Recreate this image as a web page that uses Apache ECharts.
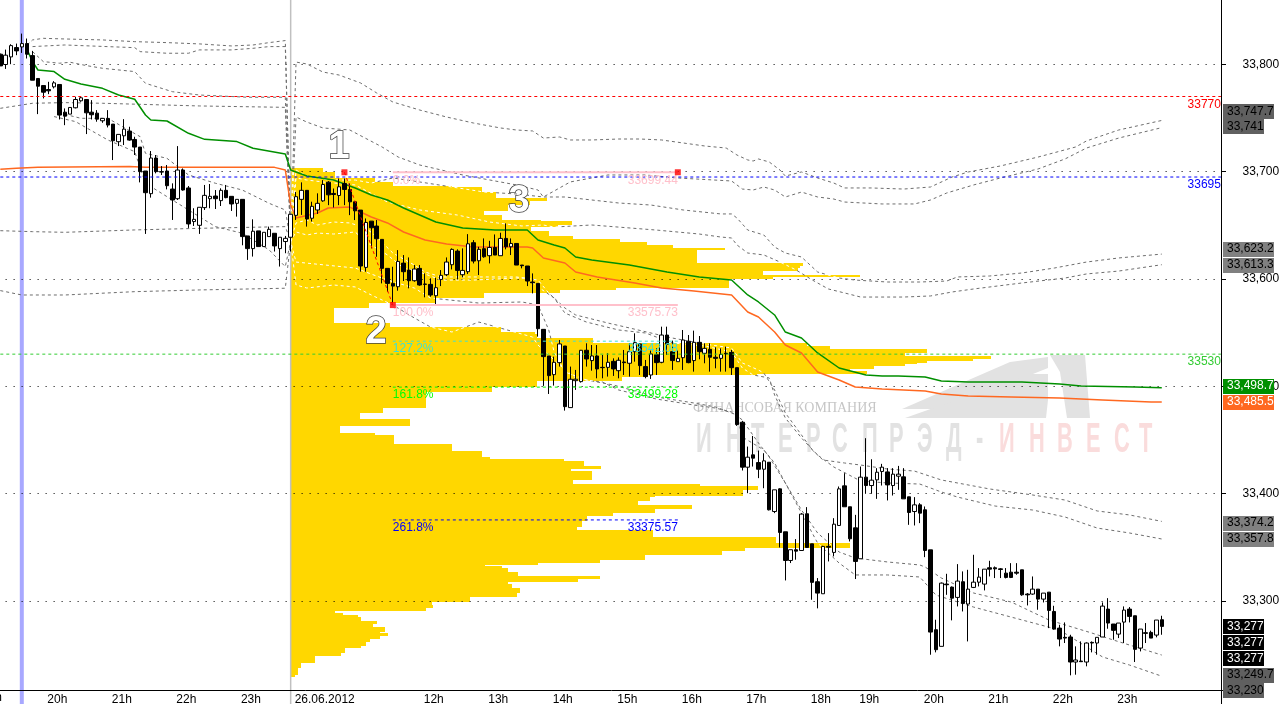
<!DOCTYPE html>
<html><head><meta charset="utf-8">
<style>html,body{margin:0;padding:0;background:#fff;overflow:hidden}#c{width:1282px;height:704px}</style>
<script src="https://cdn.jsdelivr.net/npm/echarts@6/dist/echarts.min.js"></script>
</head><body><div id="c"></div>
<script>
// all prices below are stored as offset above priceBase
const priceBase = 33000;
const barCount = 228;
const tickBars = [8,20,32,44,54,78,90,102,114,126,138,150,159,171,183,195,207];
const tickLabels = ['20h','21h','22h','23h','26.06.2012','12h','13h','14h','15h','16h','17h','18h','19h','20h','21h','22h','23h'];
const upBars = [1,2,4,10,13,14,15,19,22,23,28,33,36,37,38,39,41,44,47,49,50,52,53,54,55,56,58,59,60,63,68,74,77,81,82,83,84,86,87,89,91,93,95,103,104,106,107,108,110,113,115,117,118,121,123,126,127,129,131,134,139,142,144,147,149,153,155,156,160,162,163,164,166,167,170,175,178,180,181,182,183,192,194,200,202,204,205,208,209,212,215];
const highs = [810.0,813.7,818.7,819.3,828.6,824.0,812.5,786.8,780.2,783.7,
784.3,781.2,758.9,759.8,769.7,769.7,767.2,766.6,757.3,749.6,
757.3,744.3,734.7,748.9,741.8,732.5,722.9,700.6,719.2,715.5,
705.2,706.2,689.1,723.8,703.0,686.6,665.9,666.8,687.6,688.5,
682.9,684.5,687.6,677.0,674.2,674.2,640.1,655.6,644.8,643.5,
648.8,642.6,638.9,640.1,660.3,681.0,690.0,682.6,672.0,679.8,
692.1,691.2,684.3,693.6,693.6,689.0,671.9,664.2,656.4,653.9,
654.9,636.9,609.9,611.4,626.9,622.3,620.1,613.0,613.0,605.2,
600.6,601.2,608.3,620.1,628.5,627.6,628.5,641.8,636.2,630.0,
637.8,635.6,641.5,643.1,651.8,637.8,633.1,613.0,612.1,605.2,
595.9,553.1,528.3,527.7,543.2,537.6,518.4,515.3,533.9,540.1,
538.5,538.5,529.2,530.8,526.1,527.0,533.9,540.1,549.4,540.1,
524.6,533.3,535.4,555.6,555.6,542.6,533.3,552.5,547.8,551.9,
546.9,540.1,540.1,536.4,535.4,537.0,533.9,517.4,467.8,443.9,
453.8,440.2,437.7,429.3,403.6,405.1,364.5,347.8,357.7,381.9,
387.5,353.3,321.4,351.5,363.3,377.2,406.7,419.1,387.8,380.3,
425.3,451.7,432.1,423.8,427.8,423.8,423.8,425.9,423.8,397.1,
396.8,391.2,388.1,347.7,282.6,317.3,325.4,313.6,334.4,327.6,
329.1,343.1,330.7,329.7,337.5,332.2,330.7,330.7,335.3,335.3,
329.1,307.4,322.9,311.1,307.4,308.3,295.6,277.9,280.1,268.6,
257.8,262.4,261.5,262.4,266.2,298.7,302.7,278.6,279.5,295.0,
294.4,286.3,273.9,279.5,272.4,282.3,286.3];
const bodyTops = [809.4,808.5,817.4,815.6,819.3,819.3,808.1,786.8,780.2,776.5,
782.7,781.2,755.4,759.8,767.2,768.8,767.2,755.4,754.5,749.6,
749.6,744.3,734.7,739.6,737.8,730.0,722.9,700.6,712.7,712.7,
700.0,700.6,683.8,701.5,701.5,684.8,655.6,666.8,677.9,677.0,
677.3,682.6,682.6,677.0,674.2,674.2,640.1,644.5,644.8,643.5,
646.3,642.6,638.9,637.9,660.3,676.7,682.6,682.6,667.7,670.5,
688.0,690.2,679.7,685.9,689.0,683.4,671.9,664.2,652.7,653.9,
649.3,636.9,609.9,595.9,616.4,614.8,608.3,609.3,609.9,595.3,
595.0,591.9,603.4,615.8,627.6,626.0,608.0,632.8,633.8,627.6,
628.2,629.4,629.4,637.8,637.8,633.1,633.1,613.0,612.1,597.2,
595.9,553.1,528.3,522.4,539.5,537.6,506.6,506.6,533.6,533.6,
528.3,528.3,517.7,522.4,523.3,524.3,522.7,532.3,540.7,539.5,
518.4,530.2,529.5,547.8,547.8,532.3,526.1,543.2,542.0,541.0,
541.0,535.4,534.5,527.1,529.8,530.8,531.7,517.4,466.6,434.0,
436.2,429.0,430.6,429.3,403.6,404.5,364.5,347.8,347.8,381.0,
381.3,353.3,318.0,350.9,350.9,371.6,404.5,407.3,387.8,368.2,
415.4,415.4,412.6,420.0,424.7,420.3,418.2,418.2,415.7,397.1,
389.6,389.6,385.0,347.7,273.3,316.7,315.8,313.0,318.6,318.0,
311.1,317.6,322.3,329.7,331.0,331.0,330.0,326.0,326.9,326.9,
329.1,306.5,311.1,311.1,307.4,308.3,290.3,274.8,266.2,266.5,
245.1,244.1,260.9,261.5,266.2,295.3,292.5,278.6,279.5,291.6,
292.5,286.3,273.9,270.5,270.8,282.3,282.6];
const bodyBottoms = [798.5,799.8,806.9,812.5,816.2,809.4,785.2,779.6,774.0,775.3,
779.0,752.7,751.7,753.6,759.5,766.0,754.8,753.0,748.9,747.4,
743.4,728.8,727.9,733.4,729.4,722.9,700.0,680.4,679.5,700.0,
699.6,686.9,673.6,674.8,682.9,651.3,653.5,650.0,666.5,674.8,
674.8,673.0,675.8,669.9,670.5,639.5,628.3,628.3,630.2,630.2,
639.5,630.8,628.3,634.9,638.9,659.3,674.2,655.9,656.6,664.3,
672.8,678.4,678.7,677.8,683.4,671.9,663.5,612.1,610.8,647.7,
637.5,609.9,595.9,593.4,592.8,606.8,598.4,598.4,594.4,595.0,
585.1,584.4,599.6,604.0,613.3,608.0,604.0,606.8,616.7,617.0,
620.7,621.7,622.3,621.7,630.0,630.0,613.0,612.4,598.1,596.5,
553.7,527.7,510.0,510.9,522.1,481.1,480.2,505.3,504.4,525.5,
524.0,516.2,517.4,517.7,516.2,514.6,522.1,521.5,532.3,519.3,
509.1,510.6,522.1,522.4,539.2,524.0,523.0,526.7,522.1,524.0,
532.3,530.8,527.1,526.1,526.1,530.2,517.4,464.4,424.7,424.7,
433.1,422.8,422.8,385.0,383.4,363.9,337.8,337.8,346.5,347.1,
349.9,317.4,307.4,306.8,350.2,345.3,370.4,387.8,358.0,336.9,
339.4,407.6,407.6,412.9,420.7,408.2,407.6,416.3,395.2,382.5,
383.4,381.9,347.1,271.1,254.7,257.8,315.2,302.7,303.4,297.8,
297.2,312.7,317.6,315.8,329.7,330.0,329.4,322.0,322.0,326.0,
305.8,305.8,306.5,301.8,301.8,291.3,273.9,264.6,265.5,243.2,
243.2,243.5,243.2,260.9,260.9,266.5,279.5,272.7,269.2,280.4,
285.7,255.0,256.2,269.9,265.5,268.3,276.4];
const lows = [798.5,795.7,800.1,808.5,810.6,805.4,785.2,753.6,768.2,772.2,
777.5,748.6,743.3,753.6,758.9,765.1,735.0,748.6,746.5,745.5,
741.2,710.8,723.8,724.8,728.8,715.5,690.0,642.0,675.8,698.4,
696.9,683.5,655.0,673.6,682.3,647.6,649.4,642.0,664.3,665.9,
665.2,668.0,675.2,663.4,658.1,631.4,617.8,620.9,630.2,630.2,
639.5,625.6,611.6,624.0,625.6,655.0,659.7,648.8,653.5,660.6,
671.9,668.8,666.6,668.8,668.8,659.5,654.9,606.8,606.8,628.5,
620.7,595.9,588.2,577.9,589.1,598.1,591.3,597.5,593.7,582.9,
583.5,576.7,593.4,602.7,608.9,599.6,601.5,604.6,614.5,603.7,
619.8,614.5,622.3,621.7,627.6,622.3,613.0,609.9,593.4,586.6,
546.3,500.4,492.9,500.7,518.4,477.4,480.2,496.7,503.5,518.4,
514.6,507.5,507.5,509.1,509.7,507.5,510.6,509.1,523.0,510.6,
507.5,506.9,510.6,521.5,529.2,515.3,523.0,515.3,521.5,513.7,
525.2,521.5,513.7,516.8,513.7,513.7,510.6,463.2,421.6,400.5,
425.3,414.5,405.1,384.4,381.9,349.9,319.2,335.4,338.5,347.1,
349.9,301.2,293.2,306.8,336.9,341.6,370.1,387.8,355.5,320.5,
339.4,399.9,399.9,395.2,407.6,393.7,398.3,403.6,395.2,371.0,
370.4,372.6,340.9,250.0,252.2,257.8,305.8,282.0,295.0,290.3,
262.4,312.1,313.6,309.9,322.9,321.4,321.4,321.1,321.4,324.5,
304.9,295.9,305.8,291.9,298.7,274.8,273.3,257.8,260.9,230.8,
231.4,243.5,239.2,252.2,250.0,266.5,274.2,264.0,265.5,260.9,
280.1,243.2,253.1,260.9,265.5,266.2,268.6];

// moving averages: [bar, price offset]
const greenMA = [[5,813.4],[6,802.5],[7,794.7],[10,793.2],[12,786],[15,781.7],[19,777.6],[22,771.4],[25,767.4],[27,752.8],[28,748.1],[31,747.2],[35,735.7],[38,730.1],[44,728],[47,721.8],[53,716.5],[54,701.5],[57,695.9],[62,692.2],[66,684.8],[69,678.2],[72,673.6],[75,666.1],[81,653.1],[86,647.5],[92,645.6],[98,645.6],[100,636.3],[103,631.7],[105,628.9],[107,620.5],[110,617.7],[117,613],[124,606.5],[130,601.9],[136,599],[139,585.1],[141,578.6],[144,566.5],[146,550.6],[149,545],[152,531.1],[156,517.1],[161,510.6],[164,509.6],[167,509.6],[172,508.7],[175,505],[180,504],[190,504],[197,502.2],[201,500.3],[211,499.4],[216,498.7]];
const orangeMA = [[0,702.2],[3,703.1],[7,704],[24,704.7],[27,704],[51,704],[53,701.6],[54,669],[55,656.8],[59,661.5],[61,666.1],[65,667],[67,662.4],[69,657.8],[72,652.2],[75,643.8],[79,636.3],[83,632.6],[88,629.8],[98,629.8],[99,628.9],[101,619.6],[105,614.9],[107,606.5],[111,601.9],[118,596.3],[123,591.6],[129,588.8],[136,585.1],[139,569.3],[141,564.6],[144,550.6],[146,538.5],[149,531.1],[152,513.4],[156,505.9],[159,499.4],[164,497.5],[168,496.6],[172,495.7],[175,492.9],[180,491],[188,490.1],[197,489.1],[205,487.3],[214,485.4],[216,485.5]];

// dashed envelope bands: [bar, price offset]
const bandA1 = [[5,818],[6,822.7],[8,824.2],[12,823.6],[19,822.7],[25,821.1],[31,820.2],[37,819],[43,817.1],[47,818],[50,820.2],[53,822.1],[54,635],[55,802.1],[57,800.3],[60,792.8],[63,790],[67,782.6],[70,773.3],[73,764.9],[78,757.4],[83,750.9],[88,745.3],[93,740.7],[96,738.8],[99,737.9],[101,731.3],[104,732.3],[106,729.5],[110,729.5],[115,730.4],[119,730.4],[123,729.5],[127,726.7],[131,723.9],[135,722],[137,715.5],[139,710.9],[140,709.9],[141,711.8],[143,709],[145,701.5],[146,695.9],[149,699.7],[152,694.1],[155,689.4],[157,684.8],[162,684.8],[168,683.8],[173,685.7],[177,695],[180,699.7],[186,705.3],[193,713.6],[200,723],[202,728.6],[208,738.8],[216,747.7]];
const bandA2 = [[6,816.5],[12,818],[25,815.5],[26,811.8],[31,810.3],[35,810.3],[37,813.4],[43,813.4],[47,814.9],[50,816.5],[53,816.5],[54,635],[55,750.9],[57,746.2],[60,740.7],[65,738.8],[71,723],[74,713.6],[78,706.2],[86,696.9],[96,687.6],[100,682.9],[101,676.4],[106,690.4],[113,696.9],[120,696.9],[126,694.1],[136,691.3],[137,687.6],[138,683.8],[140,682.9],[142,685.7],[144,682.9],[146,676.4],[149,681],[152,676.4],[155,674.5],[157,671.7],[164,669.9],[170,669.9],[173,673.6],[176,680.1],[181,687.6],[186,694.1],[193,702.5],[198,711.8],[202,722],[208,731.3],[216,741]];
const bandB1 = [[6,811.8],[8,802.5],[11,801],[13,801.9],[16,798.8],[19,796.3],[25,793.2],[27,782.3],[32,774.5],[37,771.4],[46,769.3],[53,769.3],[54,635],[55,701.5],[57,695.9],[61,692.2],[66,692.2],[69,689.4],[73,694.1],[78,690.4],[84,685.7],[90,681],[96,679.2],[101,676.4],[105,676.4],[110,673.6],[115,670.8],[121,668.9],[127,664.3],[134,660.6],[136,660.6],[137,656.8],[139,645.6],[142,641],[144,629.8],[146,624.2],[149,620.5],[152,606.5],[156,600.9],[159,599],[165,597.2],[171,597.2],[176,598.1],[178,601.9],[184,602.8],[190,605.6],[196,610.2],[202,615.8],[208,619.6],[216,623.2]];
const bandB2 = [[0,759],[4,762.1],[6,763.7],[12,764.3],[19,763.7],[37,761.2],[53,759.9],[54,635],[55,694.1],[57,692.2],[60,690.4],[66,687.6],[72,671.7],[78,664.3],[85,659.6],[91,653.1],[97,649.4],[101,650.3],[103,648.4],[110,650.3],[122,645.6],[130,641.9],[134,639.1],[136,638.2],[137,631.7],[139,624.2],[142,622.4],[145,615.8],[148,608.4],[151,599.1],[154,590.7],[157,587],[160,583.2],[168,583.2],[173,584.2],[177,587.9],[181,590.7],[190,596.3],[198,600.9],[202,604.7],[208,607.4],[216,613.3]];
const bandC1 = [[12,753.4],[15,749.7],[20,749.7],[26,732.6],[27,717.1],[31,712.4],[35,696.9],[40,689.2],[45,682.9],[50,670.5],[53,664.3],[54,635],[55,652.2],[57,655],[59,650.3],[62,653.1],[65,652.2],[68,647.5],[70,639.1],[73,624.2],[77,613],[79,606.5],[82,601.9],[88,601.9],[96,601.9],[100,599],[102,586.9],[105,573],[107,566.5],[113,559],[117,554.4],[125,545],[131,539.4],[136,535.7],[138,521.8],[141,515.2],[142,512.4],[144,496.6],[146,475.2],[149,454.7],[151,440.7],[153,431.4],[157,428.6],[160,426.7],[165,423],[170,421.1],[175,412.8],[184,404.4],[192,398.8],[198,394.1],[204,383.9],[210,380.2],[216,374.2]];
const bandC2 = [[10,751.3],[14,746.6],[20,729.5],[25,718.6],[27,689.2],[31,676.7],[35,664.3],[40,648.8],[45,642.6],[50,627.1],[53,611.5],[54,635],[55,643.8],[57,641],[59,642.8],[62,641.9],[66,643.8],[68,634.5],[72,622.4],[75,610.2],[78,606.5],[82,599],[88,599],[96,600.9],[98,600.9],[100,592.6],[103,582.3],[105,568.3],[109,559.9],[115,552.5],[120,549.7],[125,540.4],[131,537.6],[136,532],[138,517.1],[140,510.6],[143,507.8],[144,491.9],[146,470.5],[149,451.9],[152,436],[155,424.9],[160,411.8],[165,410],[171,409],[175,401.6],[178,396.9],[185,388.5],[192,384.8],[198,378.3],[204,368],[210,363.4],[216,357.8]];
const bandD1 = [[0,645],[6,644.1],[12,643.5],[25,645.7],[37,647.2],[53,648.8],[54,635],[55,594.4],[57,591.6],[62,594.4],[66,592.6],[69,585.1],[73,575.8],[77,563.7],[80,555.3],[84,550.6],[89,559.9],[99,545.9],[100,538.5],[104,519.9],[107,507.8],[114,501.3],[122,490.1],[129,484.5],[133,480.8],[137,473.3],[138,452.8],[142,440.7],[144,428.6],[146,409.9],[149,384.8],[152,363.4],[156,345.7],[159,340.1],[165,336.4],[171,333.6],[172,331.7],[175,321.5],[181,307.5],[188,299.1],[195,282.4],[203,270.2],[207,263.7],[216,249.7]];
const bandD2 = [[0,589.2],[4,585.1],[12,585.1],[25,588.2],[37,589.8],[53,591.4],[54,635],[55,615.8],[66,610.2],[72,599],[77,591.6],[80,582.3],[89,577.6],[97,578.6],[100,575.8],[102,552.5],[103,532],[105,513.4],[109,505.9],[112,504],[115,496.6],[122,488.2],[129,482.6],[133,479.8],[136,476.1],[138,468.7],[141,447.2],[143,434.2],[146,409.9],[149,382],[152,354],[156,335.4],[159,324.3],[165,324.3],[171,322.4],[174,305.6],[181,294.4],[190,282.4],[197,273],[205,247.9],[210,240.4],[216,230]];
const bandLines = [bandA1,bandA2,bandB1,bandB2,bandC1,bandC2,bandD1,bandD2];

// volume profile: top price of each step and its length (volume units)
const profileTops = [703.4,699.7,694.1,690.4,686.6,685.7,681.0,675.5,672.7,668.9,663.3,659.6,655.0,654.0,650.3,648.4,644.7,640.1,637.3,634.5,631.7,628.9,627.0,615.2,612.4,610.2,607.4,603.7,601.4,600.0,591.6,589.7,587.0,582.0,577.6,573.3,559.0,555.6,550.9,548.8,545.0,540.1,537.6,534.8,531.1,528.3,525.2,523.6,521.8,520.8,519.0,516.2,514.3,511.5,511.0,509.0,505.3,499.7,495.0,479.8,475.2,469.6,463.1,456.5,454.7,446.3,439.8,434.2,432.3,430.5,425.8,423.0,421.2,412.8,409.0,407.2,403.4,397.9,396.9,393.2,389.5,385.7,382.0,379.2,374.8,369.3,366.2,359.9,354.4,349.4,346.9,343.2,341.0,338.2,335.4,333.6,332.6,330.8,327.0,323.6,320.5,318.0,315.9,312.2,307.8,304.1,299.4,296.3,293.5,290.7,288.6,287.0,285.4,281.7,278.6,275.5,271.4,269.9,267.4,264.6,261.6,258.1,256.0,251.3,248.8,242.0,237.9,231.1];
const profileVolumes = [33,45,85,103,162,192,206,257,240,218,194,212,251,282,268,241,259,283,330,357,383,435,407,513,510,508,473,570,483,439,326,270,194,146,79,44,100,211,245,247,303,517,540,637,615,701,683,637,627,615,584,560,577,467,358,332,247,202,136,93,70,120,50,85,104,162,192,200,274,294,311,281,302,283,410,468,453,365,360,348,402,365,323,297,292,287,363,486,560,455,432,355,355,310,248,195,212,218,228,310,288,218,222,230,227,180,142,143,136,45,53,68,71,87,83,95,90,98,90,80,76,71,55,51,25,11,8,5];
const profileBottom = 229.5;

// horizontal levels
const levelPrices = [770,695,530];
const levelColors = ['#ff0000','#0000ff','#33cc33'];
const levelTexts = ['33770','33695','33530'];

// fibonacci levels (prices), anchored between bars 73 and 126
const fibPrices = [699.44,575.73,542.08,499.28,375.57];
const fibNames = ['0.0%','100.0%','127.2%','161.8%','261.8%'];
const fibValues = ['33699.44','33575.73','33542.08','33499.28','33375.57'];
const fibColors = ['#ffc0cb','#ffc0cb','#40e0d0','#00ff00','#0000ff'];
const fibStartBar = 73, fibEndBar = 126;
const swingPoints = [[64,699.4],[73,575.7],[126,699.44]];

// right-hand price tags
const tagTexts = ['33,747.7','33,741','33,623.2','33,613.3','33,498.7','33,485.5','33,374.2','33,357.8','33,277','33,277','33,277','33,249.7','33,230'];
const tagAnchors = [755.8,741.6,627.7,612.8,500,485.1,372.4,357.5,276.1,261.2,246.3,231.1,216.5];
const tagFills = ['#606060','#606060','#808080','#808080','#008f00','#ff6820','#808080','#808080','#000000','#000000','#000000','#606060','#606060'];
const tagInks = ['#000','#000','#000','#000','#fff','#fff','#000','#000','#fff','#fff','#fff','#000','#000'];

const FONT = '"Liberation Sans", Arial, sans-serif';
const PX_ZERO = 290;            // profile baseline on the page
const GRID_L = -2.39, GRID_R = 1223.6;
const categories = Array.from({length:barCount},(_,i)=>String(i));
const tickMap = {}; tickBars.forEach((b,i)=>tickMap[b]=tickLabels[i]);
const upSet = new Set(upBars);
const candleData = highs.map((h,i)=>{
  const t=priceBase+bodyTops[i], b=priceBase+bodyBottoms[i];
  return upSet.has(i) ? [b,t,priceBase+lows[i],priceBase+h] : [t,b,priceBase+lows[i],priceBase+h];
});
const P = a => a.map(p=>[p[0],priceBase+p[1]]);
const hLine = (price,from,to)=>[[from,priceBase+price],[to,priceBase+price]];

// annotation texts
const notes = [];
levelPrices.forEach((p,i)=>notes.push({bar:227,price:p,text:levelTexts[i],color:levelColors[i],align:'right'}));
fibPrices.forEach((p,i)=>{
  notes.push({bar:fibStartBar,price:p,text:fibNames[i],color:fibColors[i],align:'left'});
  notes.push({bar:fibEndBar,price:p,text:fibValues[i],color:fibColors[i],align:'right'});
});

function profileVolumeAt(price){
  const off = price-priceBase;
  if(off>profileTops[0]||off<profileBottom) return 0;
  for(let i=0;i<profileTops.length;i++){
    const next = i+1<profileTops.length?profileTops[i+1]:profileBottom;
    if(off<=profileTops[i]&&off>=next) return profileVolumes[i];
  }
  return 0;
}

const flatLine = (name,data,color,width,dash,z)=>({
  type:'line',name,data,showSymbol:false,symbol:'none',silent:true,animation:false,z,clip:true,
  lineStyle:{color,width,type:dash||'solid',cap:'butt'},connectNulls:true
});

const series = [];
// profile
series.push({
  type:'custom',xAxisIndex:1,yAxisIndex:0,z:1,silent:true,animation:false,
  data:profileTops.map((t,i)=>[priceBase+t,priceBase+(i+1<profileTops.length?profileTops[i+1]:profileBottom),profileVolumes[i]]),
  encode:{x:2,y:[0,1]},
  renderItem(params,api){
    const a=api.coord([0,api.value(0)]), b=api.coord([api.value(2),api.value(1)]);
    const y1=Math.round(a[1]), y2=Math.round(b[1]);
    return {type:'rect',shape:{x:Math.round(a[0]),y:y1,width:Math.round(b[0]-a[0]),height:Math.max(1,y2-y1)},style:{fill:'#ffd700'}};
  }
});
// session markers
series.push(flatLine('sessionStart',[[4,33900],[4,33200]],'#a8a8ff',4,null,1.5));
series.push(flatLine('sessionStart2',[[54,33900],[54,33200]],'#c0c0c0',1.5,null,1.5));
// dashed bands: grey on white, white over the profile
series.push({
  type:'custom',xAxisIndex:0,yAxisIndex:0,z:3,silent:true,animation:false,
  data:bandLines.map((l,i)=>[i,i]),
  renderItem(params,api){
    const pts=bandLines[params.dataIndex].map(p=>api.coord([p[0],priceBase+p[1]]));
    const y0=api.coord([0,33800])[1], y1=api.coord([0,33300])[1];
    const priceAt=y=>33800-(y-y0)/(y1-y0)*500;
    const children=[]; let on=true,left=3;
    for(let i=0;i+1<pts.length;i++){
      const a=pts[i],b=pts[i+1],L=Math.hypot(b[0]-a[0],b[1]-a[1]);
      let t=0;
      while(t<L){
        const s=Math.min(left,L-t);
        if(on){
          const x1=a[0]+(b[0]-a[0])*t/L,y_1=a[1]+(b[1]-a[1])*t/L,x2=a[0]+(b[0]-a[0])*(t+s)/L,y_2=a[1]+(b[1]-a[1])*(t+s)/L;
          const mx=(x1+x2)/2,my=(y_1+y_2)/2;
          const inside=mx>PX_ZERO&&mx<PX_ZERO+profileVolumeAt(priceAt(my));
          children.push({type:'line',shape:{x1,y1:y_1,x2,y2:y_2},style:{stroke:inside?'#ffffff':'#6e6e6e',lineWidth:1}});
        }
        t+=s;left-=s;
        if(left<=0.0001){on=!on;left=3;}
      }
    }
    return {type:'group',children};
  }
});
// moving averages
series.push(flatLine('ma1',P(greenMA),'#008f00',1.5,null,4));
series.push(flatLine('ma2',P(orangeMA),'#ff6820',1.5,null,4));
// candles
series.push({
  type:'candlestick',data:candleData,barWidth:4,z:5,silent:true,animation:false,
  itemStyle:{color:'#ffffff',color0:'#000000',borderColor:'#000000',borderColor0:'#000000',borderWidth:1}
});
// levels
levelPrices.forEach((p,i)=>series.push(flatLine('level'+i,hLine(p,0,227),levelColors[i],1,[3,3],6)));
// fib
fibPrices.forEach((p,i)=>series.push(flatLine('fib'+i,hLine(p,fibStartBar,fibEndBar),fibColors[i],i<2?2:1,i<2?null:[3,3],6)));
series.push(flatLine('swing',P(swingPoints.slice(0,2)),'#ff0000',1,[3,3],6));
series.push({type:'scatter',data:P(swingPoints),symbol:'rect',symbolSize:6,itemStyle:{color:'#ff0000'},z:7,silent:true,animation:false});
// notes
series.push({
  type:'custom',z:7,silent:true,animation:false,
  data:notes.map((n,i)=>[n.bar,priceBase+n.price,i]),
  renderItem(params,api){
    const n=notes[params.dataIndex], c=api.coord([api.value(0),api.value(1)]);
    return {type:'text',x:c[0],y:c[1]+8,style:{text:n.text,fill:n.color,font:'12px '+FONT,align:n.align,verticalAlign:'middle'}};
  }
});
// tags
series.push({
  type:'custom',z:8,silent:true,animation:false,
  data:tagAnchors.map((a,i)=>[0,priceBase+a,i]),
  renderItem(params,api){
    const i=params.dataIndex, y=api.coord([0,api.value(1)])[1];
    const w=tagTexts[i].length>6?51:41, x=api.getWidth()-59;
    return {type:'group',children:[
      {type:'rect',shape:{x,y:Math.round(y-7.5),width:w,height:15},style:{fill:tagFills[i]}},
      {type:'text',x:x+4,y:Math.round(y),style:{text:tagTexts[i],fill:tagInks[i],font:'12px '+FONT,align:'left',verticalAlign:'middle'}}
    ]};
  }
});

// watermark + big numerals
const wmLetters = 'ИНТЕРСПРЭД-ИНВЕСТ'.split('');
const wmX = [696,726,751,778,806,832,862,889,917,946,976,999,1029,1057,1086,1114,1139];
const graphic = [
  {type:'polygon',z:0,silent:true,shape:{points:[[902,409],[1010,362],[1048,357],[1048,368],[945,409]]},style:{fill:'#e2e2e2'}},
  {type:'polygon',z:0,silent:true,shape:{points:[[905,418],[1030,374],[1048,374],[1048,400],[1046,418]]},style:{fill:'#e2e2e2'}},
  {type:'polygon',z:0,silent:true,shape:{points:[[1050,355],[1085,355],[1090,418],[1067,418],[1060,372]]},style:{fill:'#e2e2e2'}},
  {type:'text',z:0,silent:true,x:693,y:408,style:{text:'ФИНАНСОВАЯ КОМПАНИЯ',font:'14px "Liberation Serif", serif',fill:'#c6c6c6',verticalAlign:'middle'}},
  {type:'text',z:0,silent:true,x:-18,y:698,style:{text:'19h',font:'12px '+FONT,fill:'#000',verticalAlign:'middle'}}
];
wmLetters.forEach((ch,i)=>graphic.push({type:'text',z:0,silent:true,x:wmX[i],y:440,scaleX:0.52,
  style:{text:ch,font:'bold 42px '+FONT,fill:i>10?'#fadcdc':'#e2e2e2',verticalAlign:'middle'}}));
[['1',339,148],['2',376,333],['3',519,202]].forEach(n=>graphic.push({type:'text',z:20,silent:true,x:n[1],y:n[2],
  style:{text:n[0],font:'bold 38px '+FONT,fill:'#ffffff',stroke:'#404040',lineWidth:1.5,align:'center',verticalAlign:'middle',shadowBlur:4,shadowColor:'rgba(0,0,0,.65)',shadowOffsetX:3,shadowOffsetY:3}}));

const chart = echarts.init(document.getElementById('c'),null,{renderer:'canvas',width:1282,height:704});
chart.setOption({
  animation:false,backgroundColor:'#ffffff',
  grid:{left:GRID_L,top:-43.05,width:GRID_R-GRID_L,height:751.45,containLabel:false,outerBoundsMode:'none'},
  xAxis:[{
    type:'category',data:categories,boundaryGap:true,offset:-18.4,z:2,
    axisLine:{onZero:false,lineStyle:{color:'#000',width:1}},
    axisTick:{alignWithLabel:true,length:6,lineStyle:{color:'#000'},interval:(i)=>tickMap[i]!==undefined},
    axisLabel:{interval:(i)=>tickMap[i]!==undefined,formatter:(v,i)=>tickMap[i]||'',color:'#000',fontFamily:FONT,fontSize:12,align:'left',margin:4,padding:[0,0,0,4],hideOverlap:false},
    splitLine:{show:false}
  },{
    type:'value',show:false,min:GRID_L-PX_ZERO,max:GRID_R-PX_ZERO,splitLine:{show:false},axisLine:{show:false},axisTick:{show:false},axisLabel:{show:false}
  }],
  yAxis:[{
    type:'value',min:33200,max:33900,interval:100,position:'right',offset:-2.6,z:2,scale:true,
    axisLine:{show:true,onZero:false,lineStyle:{color:'#000',width:1}},
    axisTick:{show:true,length:5,lineStyle:{color:'#000'}},
    axisLabel:{color:'#000',fontFamily:FONT,fontSize:12,margin:21.5,align:'left',formatter:v=>(v<33300||v>33800)?'':String(v).replace(/(\d\d)(\d{3})/,'$1,$2')},
    splitLine:{show:true,lineStyle:{color:'#000',width:1,type:[1,7]}}
  }],
  graphic,
  series
});
</script></body></html>
